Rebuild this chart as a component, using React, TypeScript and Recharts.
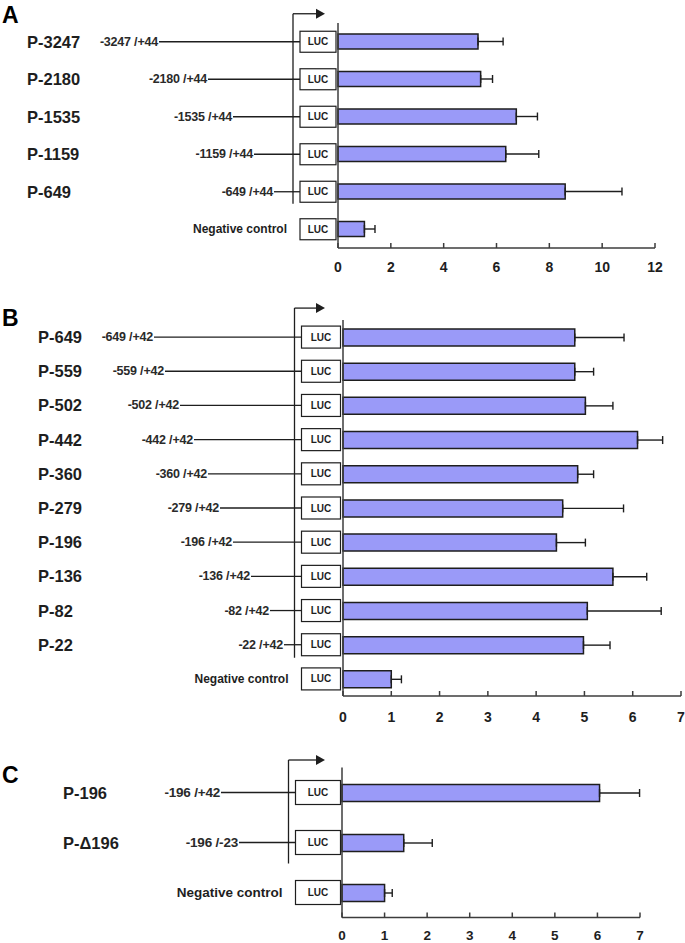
import { BarChart, Bar, XAxis, YAxis, ErrorBar } from "recharts";

// A: long 5' deletions, all ending at +44
const namesA = ["P-3247", "P-2180", "P-1535", "P-1159", "P-649", "Negative control"];
const regionsA = ["-3247 /+44", "-2180 /+44", "-1535 /+44", "-1159 /+44", "-649 /+44", ""];
const meansA = [5.3, 5.4, 6.75, 6.35, 8.6, 1.0];
const errorsA = [0.95, 0.45, 0.8, 1.25, 2.15, 0.4];
const ticksA = [0, 2, 4, 6, 8, 10, 12];

// B: finer deletions, ending at +42
const namesB = ["P-649", "P-559", "P-502", "P-442", "P-360", "P-279", "P-196", "P-136", "P-82", "P-22", "Negative control"];
const regionsB = ["-649 /+42", "-559 /+42", "-502 /+42", "-442 /+42", "-360 /+42", "-279 /+42", "-196 /+42", "-136 /+42", "-82 /+42", "-22 /+42", ""];
const meansB = [4.8, 4.8, 5.02, 6.1, 4.86, 4.55, 4.42, 5.59, 5.06, 4.98, 1.0];
const errorsB = [1.02, 0.39, 0.57, 0.52, 0.33, 1.26, 0.6, 0.7, 1.53, 0.55, 0.21];
const ticksB = [0, 1, 2, 3, 4, 5, 6, 7];

// C: 3' truncation
const namesC = ["P-196", "P-\u0394196", "Negative control"];
const regionsC = ["-196 /+42", "-196 /-23", ""];
const meansC = [6.05, 1.45, 1.0];
const errorsC = [0.94, 0.67, 0.18];
const ticksC = [0, 1, 2, 3, 4, 5, 6, 7];

const FONT = "'Liberation Sans', Arial, Helvetica, sans-serif";
const INK = "#1e1e1e";
const AXIS = "#3c3c3c";
const BAR = "#9a9af8";
const CONTROL = "Negative control";

type Row = { name: string; region: string; mean: number; err: number[] };

type Layout = {
  top: number;
  height: number;
  marginTop: number;
  xAxisHeight: number;
  plotLeft: number;
  marginRight: number;
  barSize: number;
  labelX: number;
  promoterX: number;
  arrowTip: number;
  arrowDy: number;
  lineEndDy: number;
  boxX: number;
  boxW: number;
  boxH: number;
  regionEnds: number[];
  regionSize: number;
  ctrlSize: number;
  tickDy: number;
  tickSize: number;
  letterTop: number;
};

const layoutA: Layout = {
  top: 0, height: 290, marginTop: 23, xAxisHeight: 42, plotLeft: 338, marginRight: 30, barSize: 15,
  labelX: 27, promoterX: 293, arrowTip: 325, arrowDy: -28, lineEndDy: 12,
  boxX: 300, boxW: 36, boxH: 21, regionEnds: [158, 207, 232, 253, 273],
  regionSize: 12.5, ctrlSize: 12, tickDy: 24, tickSize: 14, letterTop: 4,
};

const layoutB: Layout = {
  top: 280, height: 450, marginTop: 40, xAxisHeight: 34, plotLeft: 343, marginRight: 4, barSize: 17,
  labelX: 38, promoterX: 294.5, arrowTip: 325, arrowDy: -29, lineEndDy: 13,
  boxX: 301.5, boxW: 39, boxH: 22, regionEnds: [153, 164, 179, 193, 207, 219, 232, 250, 269, 283],
  regionSize: 12.5, ctrlSize: 12, tickDy: 26, tickSize: 14, letterTop: 307,
};

const layoutC: Layout = {
  top: 730, height: 213, marginTop: 37.5, xAxisHeight: 25.5, plotLeft: 342, marginRight: 45, barSize: 17,
  labelX: 63, promoterX: 288.5, arrowTip: 325, arrowDy: -32.5, lineEndDy: 21,
  boxX: 295.5, boxW: 45, boxH: 24, regionEnds: [220, 238],
  regionSize: 13.5, ctrlSize: 13.5, tickDy: 22.5, tickSize: 13.5, letterTop: 764,
};

function makeRows(names: string[], regions: string[], means: number[], errors: number[]): Row[] {
  return names.map((name, i) => ({ name, region: regions[i], mean: means[i], err: [0, errors[i]] }));
}

function Panel({ letter, data, ticks, L }: { letter: string; data: Row[]; ticks: number[]; L: Layout }) {
  const plotH = L.height - L.marginTop - L.xAxisHeight;
  const step = plotH / data.length;
  const lastConstruct = data.length - 2;

  const rowTick = (props: any) => {
    const { y, payload } = props;
    const i = data.findIndex((d) => d.name === payload.value);
    const row = data[i];
    if (!row) return <g />;
    const isControl = row.name === CONTROL;
    const end = L.regionEnds[i];
    return (
      <g fontFamily={FONT}>
        {i === 0 && (
          <g>
            <line x1={L.promoterX} y1={y + L.arrowDy} x2={L.promoterX} y2={y + lastConstruct * step + L.lineEndDy} stroke={INK} strokeWidth={1.3} />
            <line x1={L.promoterX} y1={y + L.arrowDy} x2={L.arrowTip - 8} y2={y + L.arrowDy} stroke={INK} strokeWidth={1.3} />
            <polygon
              points={`${L.arrowTip - 9},${y + L.arrowDy - 5} ${L.arrowTip},${y + L.arrowDy} ${L.arrowTip - 9},${y + L.arrowDy + 5}`}
              fill={INK}
            />
          </g>
        )}
        {isControl ? (
          <text x={L.boxX - 13} y={y} textAnchor="end" dominantBaseline="central" fontWeight="bold" fontSize={L.ctrlSize} fill={INK}>
            {row.name}
          </text>
        ) : (
          <g>
            <text x={L.labelX} y={y} dominantBaseline="central" fontWeight="bold" fontSize={16.5} fill={INK}>
              {row.name}
            </text>
            <text x={end} y={y} textAnchor="end" dominantBaseline="central" fontWeight="bold" fontSize={L.regionSize} letterSpacing={-0.2} fill="#2a2a2a">
              {row.region}
            </text>
            <line x1={end + 1} y1={y} x2={L.boxX} y2={y} stroke={INK} strokeWidth={1.3} />
          </g>
        )}
        <rect x={L.boxX} y={y - L.boxH / 2} width={L.boxW} height={L.boxH} fill="#fff" stroke={INK} strokeWidth={1.2} />
        <text x={L.boxX + L.boxW / 2} y={y} textAnchor="middle" dominantBaseline="central" fontWeight="bold" fontSize={10} fill={INK}>
          LUC
        </text>
      </g>
    );
  };

  const valueTick = (props: any) => {
    const { x, y, payload } = props;
    return (
      <g>
        <line x1={x} y1={y} x2={x} y2={y - 5} stroke={AXIS} strokeWidth={1.5} />
        <text x={x} y={y + L.tickDy} textAnchor="middle" fontFamily={FONT} fontWeight="bold" fontSize={L.tickSize} fill={INK}>
          {payload.value}
        </text>
      </g>
    );
  };

  return (
    <div style={{ position: "absolute", left: 0, top: L.top, width: 685, height: L.height }}>
      <div
        style={{
          position: "absolute", left: 2, top: L.letterTop - L.top, fontFamily: FONT,
          fontWeight: "bold", fontSize: 23, lineHeight: "23px", color: "#000",
        }}
      >
        {letter}
      </div>
      <BarChart
        width={685}
        height={L.height}
        data={data}
        layout="vertical"
        margin={{ top: L.marginTop, right: L.marginRight, bottom: 0, left: 0 }}
        barCategoryGap={0}
        style={{ overflow: "visible" }}
      >
        <XAxis
          type="number"
          domain={[ticks[0], ticks[ticks.length - 1]]}
          ticks={ticks}
          interval={0}
          height={L.xAxisHeight}
          tickSize={0}
          tickMargin={0}
          tickLine={false}
          axisLine={{ stroke: AXIS, strokeWidth: 1.5 }}
          tick={valueTick}
        />
        <YAxis
          type="category"
          dataKey="name"
          width={L.plotLeft}
          interval={0}
          tickSize={0}
          tickMargin={0}
          tickLine={false}
          axisLine={{ stroke: AXIS, strokeWidth: 1.5 }}
          tick={rowTick}
        />
        <Bar dataKey="mean" fill={BAR} stroke={INK} strokeWidth={1.5} barSize={L.barSize} isAnimationActive={false}>
          <ErrorBar dataKey="err" direction="x" width={4} stroke={INK} strokeWidth={1.4} />
        </Bar>
      </BarChart>
    </div>
  );
}

export default function App() {
  return (
    <div style={{ position: "absolute", left: 0, top: 0, width: 685, height: 943, background: "#fff" }}>
      <Panel letter="A" data={makeRows(namesA, regionsA, meansA, errorsA)} ticks={ticksA} L={layoutA} />
      <Panel letter="B" data={makeRows(namesB, regionsB, meansB, errorsB)} ticks={ticksB} L={layoutB} />
      <Panel letter="C" data={makeRows(namesC, regionsC, meansC, errorsC)} ticks={ticksC} L={layoutC} />
    </div>
  );
}
